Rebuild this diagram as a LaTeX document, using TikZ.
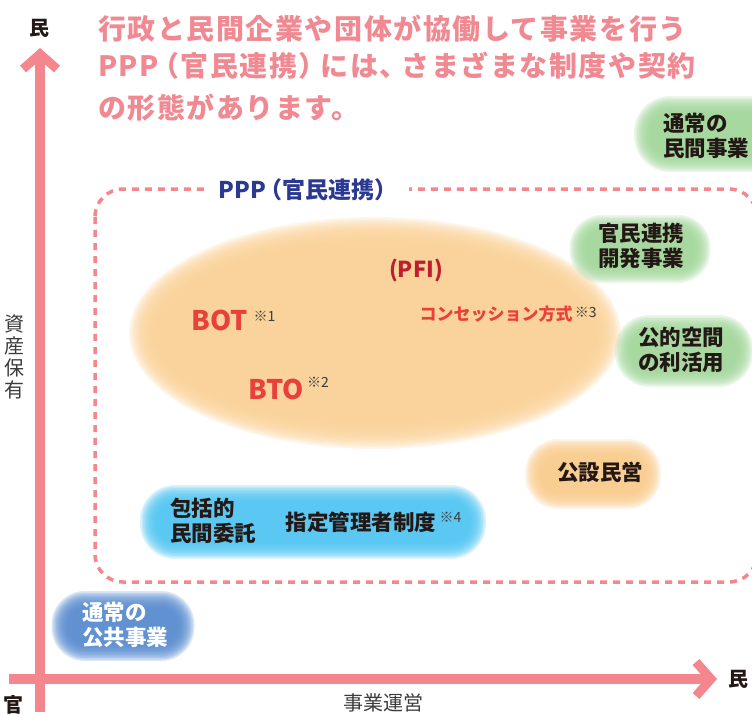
\documentclass[tikz,border=0pt]{standalone}
\usepackage{fontspec}
\setmainfont{Noto Sans CJK JP}
\usetikzlibrary{calc}
\definecolor{pinkax}{HTML}{F4868E}
\definecolor{pinktitle}{HTML}{F08992}
\definecolor{navy}{HTML}{2B3990}
\definecolor{redtxt}{HTML}{E8403A}
\definecolor{pfired}{HTML}{BE1E2D}
\definecolor{ink}{HTML}{231815}
\definecolor{notegray}{HTML}{3C3C3C}
\definecolor{greenblob}{HTML}{A0D598}
\definecolor{orangeblob}{HTML}{F9CA8A}
\definecolor{ellblob}{HTML}{FAD197}
\definecolor{skyblob}{HTML}{4EC4F1}
\definecolor{deepblob}{HTML}{5589CE}

\newcommand\softblob[5]{%
  \foreach \k in {0,...,11}{%
    \pgfmathsetmacro\hw{#3/2+3-\k*1.5}%
    \pgfmathsetmacro\hh{#4/2+3-\k*1.5}%
    \pgfmathsetmacro\rr{0.95*\hh}%
    \fill[#5,opacity=0.2,rounded corners=\rr pt] (#1-\hw,#2-\hh) rectangle (#1+\hw,#2+\hh);
  }%
}

\tikzset{
  titletext/.style={font=\fontsize{28}{38}\selectfont\bfseries\addfontfeature{LetterSpace=5.5},
    text=pinktitle, inner sep=0, anchor=west},
  axislabel/.style={font=\fontsize{20}{22}\selectfont\bfseries, text=ink, inner sep=0},
  plainlabel/.style={font=\fontsize{20}{21.75}\selectfont, text=notegray, inner sep=0, align=center},
  axisline/.style={pinkax, line width=10pt},
  axishead/.style={pinkax, line width=9pt, miter limit=10},
  dashbox/.style={pinkax, line width=3.5pt, dash pattern=on 7pt off 6pt, rounded corners=28pt},
  ppptitle/.style={font=\fontsize{23}{26}\selectfont\bfseries, text=navy, fill=white, inner xsep=12pt, inner ysep=2pt},
  blobtext/.style={font=\fontsize{21.5}{25.5}\selectfont\bfseries, text=ink, align=left, inner sep=0},
  whiteblobtext/.style={blobtext, text=white},
  redbig/.style={font=\fontsize{27}{30}\selectfont\bfseries, text=redtxt, inner sep=0},
  pfitext/.style={font=\fontsize{22}{26}\selectfont\bfseries, text=pfired, inner sep=0},
  concession/.style={font=\fontsize{17}{20}\selectfont\bfseries, text=redtxt, inner sep=0},
  note/.style={font=\fontsize{14}{16}\selectfont, text=notegray, inner sep=0, anchor=west},
}

\begin{document}
\begin{tikzpicture}[x=1pt,y=-1pt]
\useasboundingbox (0,0) rectangle (752,715);
\clip (0,0) rectangle (752,715);

% soft blobs
\foreach \k in {0,...,13}{%
  \pgfmathsetmacro\rx{246-\k*1.8}%
  \pgfmathsetmacro\ry{116-\k*1.8}%
  \fill[ellblob,opacity=0.19] (375,333) ellipse [x radius=\rx pt, y radius=\ry pt];
}
\softblob{712}{134}{150}{70}{greenblob}
\softblob{640}{249}{135}{62}{greenblob}
\softblob{684}{351}{132}{66}{greenblob}
\softblob{593}{474}{130}{64}{orangeblob}
\softblob{313}{522}{340}{68}{skyblob}
\softblob{123}{626}{137}{64}{deepblob}

% dashed PPP region
\draw[dashbox] (95,189) rectangle (757,582);
\node[ppptitle] (ppp) at (308,190) {PPP\hspace{-7pt}（官民連携）};

% title
\node[titletext] (t1) at (98,29) {行政と民間企業や団体が協働して事業を行う};
\node[titletext] (t2) at (98,66) {PPP\hspace{-8pt}（官民連携）\hspace{-6pt}には、\hspace{-6pt}さまざまな制度や契約};
\node[titletext] (t3) at (98,108) {の形態があります。};

% axes
\coordinate (ybot) at (40,712);
\coordinate (ytip) at (40,47);
\coordinate (xleft) at (9,679);
\coordinate (xtip) at (718,679);
\draw[axisline] (ybot) -- ($(ytip)+(0,12)$);
\draw[axishead] ($(ytip)+(-17,22)$) -- ($(ytip)+(0,7)$) -- ($(ytip)+(17,22)$);
\draw[axisline] (xleft) -- ($(xtip)+(-12,0)$);
\draw[axishead] ($(xtip)+(-22,-17)$) -- ($(xtip)+(-7,0)$) -- ($(xtip)+(-22,17)$);

\node[axislabel] (ymaxlab) at (39,28) {民};
\node[axislabel] (xmaxlab) at (738,679) {民};
\node[axislabel] (origlab) at (13,705) {官};
\node[plainlabel] (xlab) at (383,703) {事業運営};
\node[plainlabel] (ylab) at (15,357) {資\\産\\保\\有};

% ellipse contents
\node[pfitext] (pfi) at (416,270) {(PFI)};
\node[redbig] (bot) at (220,320) {BOT};
\node[note] (n1) at ($(bot.east)+(5,-4)$) {※1};
\node[redbig] (bto) at (276,389) {BTO};
\node[note] (n2) at ($(bto.east)+(3,-7)$) {※2};
\node[concession] (conc) at (496,314) {コンセッション方式};
\node[note] (n3) at ($(conc.east)+(2,-2)$) {※3};

% blob texts
\node[blobtext] (minkan) at (706,136) {通常の\\民間事業};
\node[blobtext] (kaihatsu) at (641,246) {官民連携\\開発事業};
\node[blobtext] (kukan) at (681,350) {公的空間\\の利活用};
\node[blobtext] (kosetsu) at (600,472) {公設民営};
\node[blobtext] (hokatsu) at (213,521) {包括的\\民間委託};
\node[blobtext] (shitei) at (361,522) {指定管理者制度};
\node[note] (n4) at ($(shitei.east)+(3,-5)$) {※4};
\node[whiteblobtext] (kokyo) at (125,625) {通常の\\公共事業};
\end{tikzpicture}
\end{document}
